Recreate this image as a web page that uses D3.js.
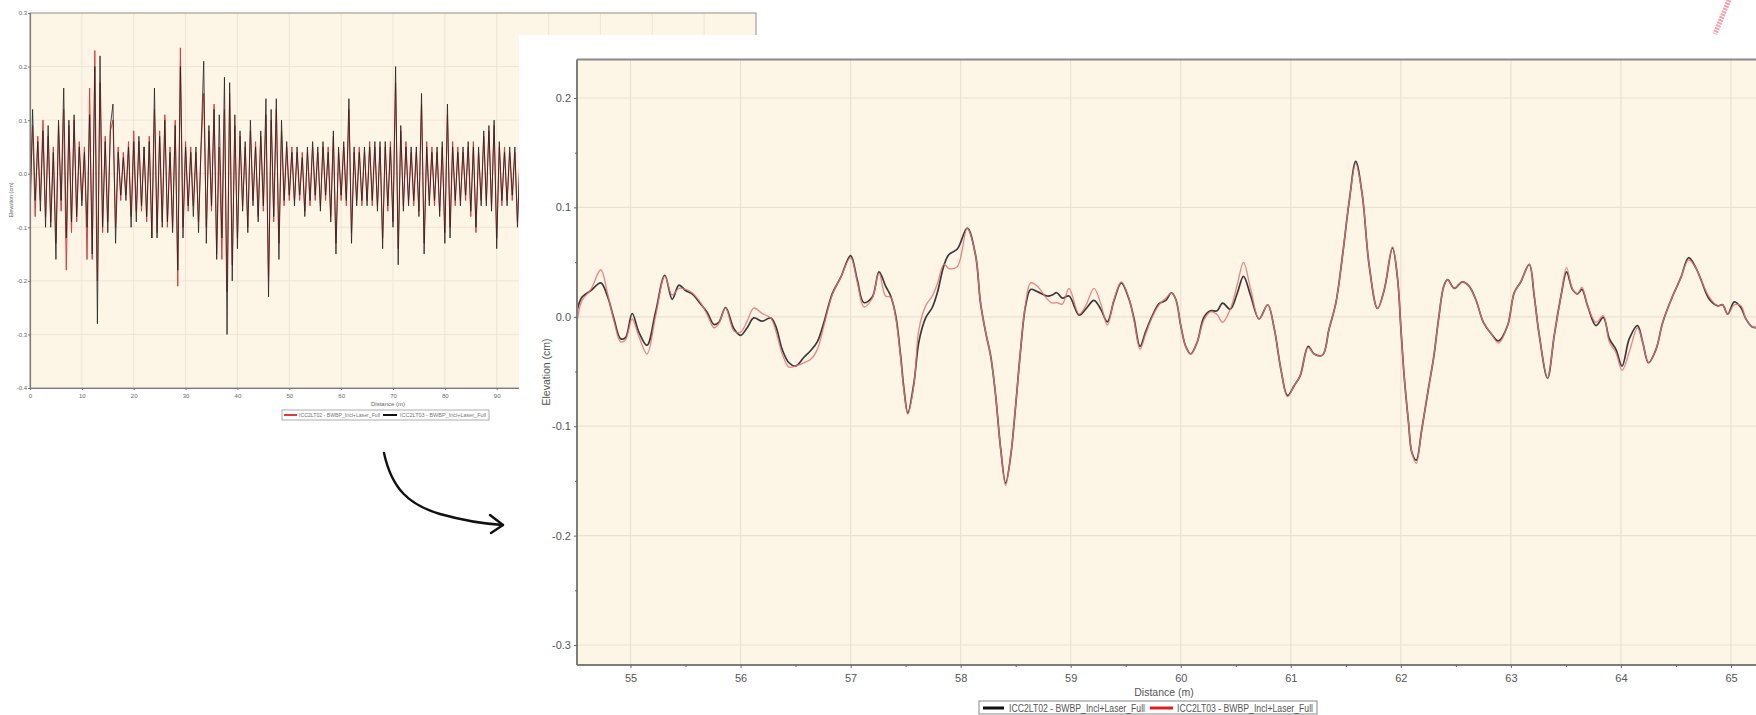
<!DOCTYPE html>
<html>
<head>
<meta charset="utf-8">
<script src="https://cdn.jsdelivr.net/npm/d3@7"></script>
<style>
    body { margin: 0; background: #ffffff; }
    svg text { font-family: "Liberation Sans", Arial, sans-serif; }
</style>
</head>
<body>
<div id="chart"></div>
<script>
// ---------- data ----------
// overview profile, one sample every 0.5 m starting at 0 m
const overviewStep = 0.5;
// ICC2LT02 (red in the overview)
const overviewLT02 = [
    -0.05, 0.09, -0.08, 0.07, -0.05, 0.10, -0.08, 0.07, -0.09, 0.05,
    -0.13, 0.09, -0.07, 0.12, -0.18, 0.09, -0.11, 0.10, -0.09, 0.06,
    -0.05, 0.05, -0.16, 0.16, -0.16, 0.23, -0.20, 0.17, -0.11, 0.07,
    -0.09, 0.08, 0.10, -0.10, 0.05, -0.05, 0.04, -0.04, 0.06, -0.08,
    0.08, -0.07, 0.06, -0.07, 0.05, -0.09, 0.07, -0.12, 0.12, -0.11,
    0.08, -0.09, 0.11, -0.10, 0.05, -0.10, 0.10, -0.21, 0.235, -0.10,
    0.06, -0.07, 0.05, -0.06, 0.04, -0.09, 0.05, 0.15, -0.10, 0.08,
    -0.07, 0.13, -0.15, 0.05, -0.16, 0.12, -0.22, 0.15, -0.17, 0.09,
    -0.12, 0.07, -0.06, 0.05, -0.10, 0.08, -0.05, 0.06, -0.08, 0.07,
    -0.07, 0.11, -0.20, 0.10, -0.09, 0.12, -0.13, 0.08, -0.06, 0.05,
    -0.05, 0.05, -0.05, 0.04, -0.05, 0.04, -0.07, 0.04, -0.06, 0.05,
    -0.05, 0.04, -0.06, 0.05, -0.05, 0.05, -0.08, 0.07, -0.13, 0.04,
    -0.05, 0.05, -0.06, 0.12, -0.11, 0.04, -0.05, 0.05, -0.06, 0.04,
    -0.05, 0.06, -0.06, 0.05, -0.06, 0.05, -0.12, 0.05, -0.07, 0.06,
    -0.09, 0.17, -0.14, 0.08, -0.06, 0.06, -0.05, 0.04, -0.06, 0.04,
    -0.07, 0.13, -0.13, 0.06, -0.05, 0.05, -0.06, 0.04, -0.07, 0.05,
    -0.11, 0.11, -0.10, 0.06, -0.06, 0.05, -0.05, 0.04, -0.05, 0.05,
    -0.08, 0.06, -0.11, 0.04, -0.05, 0.07, -0.05, 0.08, -0.06, 0.09,
    -0.12, 0.05, -0.06, 0.05, -0.05, 0.04, -0.05, 0.04, -0.09, 0.04
];
// ICC2LT03 (black in the overview)
const overviewLT03 = [
    -0.09, 0.12, -0.05, 0.06, -0.07, 0.08, -0.10, 0.09, -0.10, 0.04,
    -0.16, 0.10, -0.05, 0.16, -0.12, 0.10, -0.09, 0.11, -0.08, 0.05,
    -0.06, 0.04, -0.10, 0.11, -0.15, 0.20, -0.28, 0.22, -0.10, 0.06,
    -0.11, 0.09, 0.13, -0.13, 0.04, -0.04, 0.03, -0.05, 0.05, -0.10,
    0.06, -0.09, 0.07, -0.06, 0.05, -0.08, 0.06, -0.12, 0.16, -0.12,
    0.07, -0.10, 0.10, -0.09, 0.04, -0.11, 0.09, -0.18, 0.20, -0.12,
    0.05, -0.06, 0.04, -0.08, 0.05, -0.11, 0.06, 0.21, -0.13, 0.09,
    -0.06, 0.12, -0.16, 0.11, -0.12, 0.18, -0.30, 0.17, -0.20, 0.11,
    -0.14, 0.08, -0.07, 0.06, -0.11, 0.10, -0.06, 0.05, -0.09, 0.08,
    -0.06, 0.14, -0.23, 0.12, -0.08, 0.14, -0.16, 0.10, -0.05, 0.06,
    -0.04, 0.04, -0.06, 0.05, -0.04, 0.03, -0.08, 0.05, -0.05, 0.06,
    -0.04, 0.05, -0.07, 0.06, -0.04, 0.04, -0.09, 0.08, -0.15, 0.05,
    -0.04, 0.06, -0.05, 0.14, -0.13, 0.05, -0.06, 0.04, -0.05, 0.05,
    -0.06, 0.05, -0.05, 0.06, -0.07, 0.06, -0.14, 0.06, -0.06, 0.05,
    -0.10, 0.20, -0.17, 0.09, -0.07, 0.05, -0.06, 0.05, -0.05, 0.05,
    -0.08, 0.15, -0.15, 0.05, -0.06, 0.04, -0.05, 0.05, -0.08, 0.06,
    -0.13, 0.13, -0.12, 0.05, -0.05, 0.04, -0.06, 0.05, -0.04, 0.06,
    -0.07, 0.05, -0.10, 0.05, -0.06, 0.08, -0.06, 0.09, -0.07, 0.10,
    -0.14, 0.06, -0.05, 0.04, -0.06, 0.05, -0.04, 0.05, -0.10, 0.03
];
const overviewXTicks = [0, 10, 20, 30, 40, 50, 60, 70, 80, 90, 100, 110, 120, 130, 140];
const overviewYTicks = [-0.4, -0.3, -0.2, -0.1, 0.0, 0.1, 0.2, 0.3];
const overviewNames = ["ICC2LT02 - BWBP_Incl+Laser_Full", "ICC2LT03 - BWBP_Incl+Laser_Full"];

// zoomed profile 54.5 m - 65.2 m
const zoomDistance = [
    54.515, 54.56, 54.64, 54.73, 54.79, 54.85, 54.91, 54.955, 55.015, 55.076,
    55.15, 55.227, 55.312, 55.379, 55.44, 55.5, 55.56, 55.636, 55.697, 55.758,
    55.803, 55.864, 55.94, 56.0, 56.06, 56.12, 56.197, 56.273, 56.318, 56.379,
    56.44, 56.5, 56.576, 56.636, 56.697, 56.758, 56.833, 56.91, 57.0, 57.06,
    57.12, 57.197, 57.258, 57.318, 57.364, 57.41, 57.455, 57.485, 57.52, 57.576,
    57.62, 57.682, 57.742, 57.788, 57.848, 57.894, 57.97, 58.06, 58.136, 58.18,
    58.227, 58.273, 58.318, 58.364, 58.409, 58.455, 58.5, 58.545, 58.59, 58.636,
    58.697, 58.788, 58.833, 58.873, 58.924, 58.985, 59.076, 59.136, 59.212, 59.273,
    59.333, 59.394, 59.46, 59.53, 59.576, 59.63, 59.68, 59.742, 59.803, 59.864,
    59.915, 59.955, 60.0, 60.045, 60.09, 60.15, 60.21, 60.27, 60.33, 60.38,
    60.45, 60.515, 60.57, 60.636, 60.712, 60.79, 60.85, 60.91, 60.97, 61.03,
    61.085, 61.158, 61.212, 61.288, 61.348, 61.41, 61.47, 61.53, 61.59, 61.65,
    61.712, 61.788, 61.85, 61.924, 61.97, 62.0, 62.03, 62.07, 62.1, 62.14,
    62.19, 62.25, 62.3, 62.343, 62.39, 62.425, 62.485, 62.56, 62.62, 62.68,
    62.75, 62.818, 62.888, 62.97, 63.03, 63.09, 63.167, 63.212, 63.258, 63.333,
    63.394, 63.455, 63.506, 63.56, 63.606, 63.645, 63.697, 63.773, 63.84, 63.894,
    63.955, 64.01, 64.076, 64.15, 64.197, 64.25, 64.318, 64.38, 64.47, 64.545,
    64.615, 64.68, 64.727, 64.803, 64.88, 64.924, 64.97, 65.03, 65.09, 65.136,
    65.19, 65.25
];
// ICC2LT02 (black in the zoom)
const zoomLT02 = [
    0.006, 0.018, 0.024, 0.031, 0.019, -0.002, -0.020, -0.019, 0.003, -0.014,
    -0.026, 0.004, 0.038, 0.016, 0.029, 0.024, 0.021, 0.012, 0.004, -0.007,
    -0.005, 0.0085, -0.011, -0.017, -0.010, -0.001, -0.004, -0.001, -0.008, -0.030,
    -0.042, -0.045, -0.037, -0.031, -0.023, -0.005, 0.021, 0.036, 0.056, 0.034,
    0.013, 0.018, 0.041, 0.028, 0.019, 0.001, -0.036, -0.066, -0.088, -0.060,
    -0.023, -0.001, 0.0085, 0.022, 0.047, 0.057, 0.062, 0.081, 0.056, 0.013,
    -0.014, -0.036, -0.072, -0.121, -0.152, -0.127, -0.081, -0.030, 0.010, 0.025,
    0.023, 0.019, 0.020, 0.022, 0.017, 0.019, 0.0015, 0.007, 0.015, 0.007,
    -0.0046, 0.015, 0.031, 0.016, -0.002, -0.027, -0.014, 0.001, 0.012, 0.015,
    0.022, 0.016, -0.008, -0.027, -0.034, -0.023, -0.0006, 0.0055, 0.0055, 0.0125,
    0.007, 0.022, 0.037, 0.019, -0.002, 0.011, -0.011, -0.048, -0.072, -0.063,
    -0.054, -0.027, -0.034, -0.035, -0.011, 0.013, 0.056, 0.105, 0.142, 0.111,
    0.047, 0.0076, 0.025, 0.063, 0.035, -0.010, -0.054, -0.097, -0.124, -0.131,
    -0.103, -0.066, -0.036, -0.002, 0.028, 0.034, 0.026, 0.032, 0.028, 0.016,
    -0.005, -0.015, -0.022, -0.008, 0.022, 0.032, 0.048, 0.019, -0.017, -0.056,
    -0.017, 0.019, 0.041, 0.025, 0.021, 0.025, 0.010, -0.008, -0.0006, -0.020,
    -0.030, -0.045, -0.020, -0.008, -0.023, -0.042, -0.030, -0.005, 0.019, 0.036,
    0.054, 0.045, 0.034, 0.016, 0.010, 0.011, 0.0024, 0.0137, 0.0085, -0.002,
    -0.009, -0.010
];
// ICC2LT03 (red in the zoom)
const zoomLT03 = [
    -0.004, 0.015, 0.025, 0.043, 0.022, -0.004, -0.023, -0.021, -0.002, -0.018,
    -0.034, 0.000, 0.037, 0.020, 0.026, 0.025, 0.022, 0.013, 0.002, -0.010,
    -0.006, 0.008, -0.013, -0.014, -0.004, 0.008, 0.003, -0.001, -0.012, -0.034,
    -0.046, -0.045, -0.042, -0.039, -0.030, -0.008, 0.020, 0.036, 0.054, 0.032,
    0.009, 0.017, 0.040, 0.019, 0.018, -0.001, -0.038, -0.068, -0.089, -0.062,
    -0.012, 0.010, 0.019, 0.030, 0.048, 0.044, 0.046, 0.081, 0.056, 0.013,
    -0.014, -0.036, -0.072, -0.121, -0.154, -0.127, -0.081, -0.030, 0.012, 0.031,
    0.028, 0.016, 0.0125, 0.013, 0.0116, 0.026, 0.0024, 0.010, 0.026, 0.012,
    -0.0076, 0.016, 0.032, 0.017, -0.004, -0.0296, -0.016, 0.000, 0.011, 0.017,
    0.0216, 0.016, -0.008, -0.027, -0.034, -0.023, -0.003, 0.0046, 0.002, -0.005,
    0.007, 0.030, 0.0497, 0.025, -0.002, 0.011, -0.011, -0.048, -0.073, -0.063,
    -0.054, -0.028, -0.034, -0.035, -0.011, 0.013, 0.056, 0.105, 0.140, 0.111,
    0.047, 0.0076, 0.025, 0.064, 0.035, -0.010, -0.054, -0.097, -0.124, -0.134,
    -0.103, -0.066, -0.036, -0.002, 0.028, 0.034, 0.026, 0.032, 0.028, 0.016,
    -0.005, -0.015, -0.024, -0.008, 0.022, 0.032, 0.048, 0.019, -0.017, -0.056,
    -0.017, 0.019, 0.045, 0.025, 0.021, 0.027, 0.010, -0.005, 0.001, -0.023,
    -0.033, -0.049, -0.032, -0.010, -0.023, -0.042, -0.030, -0.005, 0.019, 0.036,
    0.052, 0.045, 0.034, 0.018, 0.010, 0.011, 0.0024, 0.011, 0.010, -0.002,
    -0.009, -0.010
];
const zoomXTicks = [55, 56, 57, 58, 59, 60, 61, 62, 63, 64, 65];
const zoomYTicks = [-0.3, -0.2, -0.1, 0.0, 0.1, 0.2];
const zoomNames = ["ICC2LT02 - BWBP_Incl+Laser_Full", "ICC2LT03 - BWBP_Incl+Laser_Full"];

const PLOT_BG = "#fdf5e6";
const GRID = "#e9e1d1";
const FRAME = "#7d7d7d";

function init() {
    var svg = d3.select("#chart").append("svg")
        .attr("width", 1756)
        .attr("height", 715);

    drawOverview(svg);
    drawZoom(svg);
    drawDecor(svg);
}

function fmt(d) {
    return d.toFixed(1);
}

function drawOverview(svg) {
    var x = d3.scaleLinear().domain([0, 140]).range([30, 756]);
    var y = d3.scaleLinear().domain([-0.4, 0.3]).range([388, 13]);
    var g = svg.append("g").attr("class", "overview");

    g.append("rect")
        .attr("x", x(0)).attr("y", y(0.3))
        .attr("width", x(140) - x(0)).attr("height", y(-0.4) - y(0.3))
        .attr("fill", PLOT_BG);

    // grid
    g.append("g").selectAll("line").data(overviewXTicks).join("line")
        .attr("x1", d => x(d)).attr("x2", d => x(d))
        .attr("y1", y(0.3)).attr("y2", y(-0.4))
        .attr("stroke", GRID).attr("stroke-width", 0.8);
    g.append("g").selectAll("line").data(overviewYTicks).join("line")
        .attr("x1", x(0)).attr("x2", x(140))
        .attr("y1", d => y(d)).attr("y2", d => y(d))
        .attr("stroke", GRID).attr("stroke-width", 0.8);

    svg.append("clipPath").attr("id", "clipOverview")
        .append("rect")
        .attr("x", x(0)).attr("y", y(0.3))
        .attr("width", x(140) - x(0)).attr("height", y(-0.4) - y(0.3));

    var line = d3.line()
        .x((d, i) => x(i * overviewStep))
        .y(d => y(d));

    var lines = g.append("g").attr("clip-path", "url(#clipOverview)");
    lines.append("path").datum(overviewLT02)
        .attr("d", line).attr("fill", "none")
        .attr("stroke", "#e23a3a").attr("stroke-width", 1);
    lines.append("path").datum(overviewLT03)
        .attr("d", line).attr("fill", "none")
        .attr("stroke", "#222").attr("stroke-opacity", 0.8).attr("stroke-width", 1);

    // frame
    g.append("rect")
        .attr("x", x(0)).attr("y", y(0.3))
        .attr("width", x(140) - x(0)).attr("height", y(-0.4) - y(0.3))
        .attr("fill", "none").attr("stroke", "#999").attr("stroke-width", 1);

    // axes
    var yAxis = g.append("g")
        .attr("transform", "translate(" + x(0) + ",0)")
        .call(d3.axisLeft(y).tickValues(overviewYTicks).tickFormat(fmt).tickSize(2).tickPadding(1));
    var xAxis = g.append("g")
        .attr("transform", "translate(0," + y(-0.4) + ")")
        .call(d3.axisBottom(x).tickValues(overviewXTicks).tickFormat(d3.format("d")).tickSize(2).tickPadding(4));
    [yAxis, xAxis].forEach(a => {
        a.select(".domain").attr("stroke", FRAME).attr("stroke-width", 1.2);
        a.selectAll(".tick line").attr("stroke", "#777");
        a.selectAll(".tick text").attr("fill", "#666").style("font-size", "6px");
    });

    g.append("text")
        .attr("x", 388).attr("y", 406)
        .attr("text-anchor", "middle")
        .style("font-size", "6px").attr("fill", "#666")
        .text("Distance (m)");

    g.append("text")
        .attr("transform", "translate(13,200) rotate(-90)")
        .attr("text-anchor", "middle")
        .style("font-size", "5.5px").attr("fill", "#666")
        .text("Elevation (cm)");

    // legend
    var lg = g.append("g").attr("class", "legend");
    lg.append("rect").attr("x", 282).attr("y", 410).attr("width", 207).attr("height", 10)
        .attr("fill", "#fff").attr("stroke", "#999").attr("stroke-width", 0.8);
    lg.append("line").attr("x1", 284).attr("x2", 297).attr("y1", 415).attr("y2", 415)
        .attr("stroke", "#e23a3a").attr("stroke-width", 2);
    lg.append("text").attr("x", 299).attr("y", 417)
        .attr("textLength", 81).attr("lengthAdjust", "spacingAndGlyphs")
        .style("font-size", "5.5px").attr("fill", "#777").text(overviewNames[0]);
    lg.append("line").attr("x1", 383).attr("x2", 397).attr("y1", 415).attr("y2", 415)
        .attr("stroke", "#111").attr("stroke-width", 2);
    lg.append("text").attr("x", 400).attr("y", 417)
        .attr("textLength", 86).attr("lengthAdjust", "spacingAndGlyphs")
        .style("font-size", "5.5px").attr("fill", "#777").text(overviewNames[1]);
}

function drawZoom(svg) {
    var left = 577, top = 59.5, bottom = 665, right = 1756;
    var g = svg.append("g").attr("class", "zoomChart");

    // white card that sits on top of the overview
    g.append("rect")
        .attr("x", 519).attr("y", 35)
        .attr("width", 1756 - 519).attr("height", 715 - 35)
        .attr("fill", "#fff");

    var x = d3.scaleLinear().domain([55, 65]).range([630.5, 1731]);
    var y = d3.scaleLinear().domain([-0.3, 0.2]).range([645, 98]);

    g.append("rect")
        .attr("x", left).attr("y", top)
        .attr("width", right - left).attr("height", bottom - top)
        .attr("fill", PLOT_BG);

    g.append("g").selectAll("line").data(zoomXTicks).join("line")
        .attr("x1", d => x(d)).attr("x2", d => x(d))
        .attr("y1", top).attr("y2", bottom)
        .attr("stroke", GRID).attr("stroke-width", 1.2);
    g.append("g").selectAll("line").data(zoomYTicks).join("line")
        .attr("x1", left).attr("x2", right)
        .attr("y1", d => y(d)).attr("y2", d => y(d))
        .attr("stroke", GRID).attr("stroke-width", 1.2);

    svg.append("clipPath").attr("id", "clipZoom")
        .append("rect")
        .attr("x", left).attr("y", top)
        .attr("width", right - left).attr("height", bottom - top);

    var line = d3.line()
        .x((d, i) => x(zoomDistance[i]))
        .y(d => y(d))
        .curve(d3.curveCatmullRom.alpha(0.5));

    var lines = g.append("g").attr("clip-path", "url(#clipZoom)");
    lines.append("path").datum(zoomLT02)
        .attr("d", line).attr("fill", "none")
        .attr("stroke", "#3a3a3a").attr("stroke-width", 1.7);
    lines.append("path").datum(zoomLT03)
        .attr("d", line).attr("fill", "none")
        .attr("stroke", "#ef6f73").attr("stroke-opacity", 0.85).attr("stroke-width", 1.3);

    // frame: top, left, bottom
    g.append("line").attr("x1", left).attr("x2", right).attr("y1", top).attr("y2", top)
        .attr("stroke", "#8a8a8a").attr("stroke-width", 2);

    var yAxis = g.append("g")
        .attr("transform", "translate(" + left + ",0)")
        .call(d3.axisLeft(y).tickValues(zoomYTicks).tickFormat(fmt).tickSize(3).tickPadding(3));
    var yMinor = g.append("g")
        .attr("transform", "translate(" + left + ",0)")
        .call(d3.axisLeft(y).tickValues([-0.25, -0.15, -0.05, 0.05, 0.15]).tickFormat("").tickSize(2));
    var xAxis = g.append("g")
        .attr("transform", "translate(0," + bottom + ")")
        .call(d3.axisBottom(x).tickValues(zoomXTicks).tickFormat(d3.format("d")).tickSize(3).tickPadding(6));
    var xMinor = g.append("g")
        .attr("transform", "translate(0," + bottom + ")")
        .call(d3.axisBottom(x).tickValues(zoomXTicks.map(d => d + 0.5)).tickFormat("").tickSize(2));

    [yAxis, yMinor, xAxis, xMinor].forEach(a => {
        a.select(".domain").attr("stroke", FRAME).attr("stroke-width", 2);
        a.selectAll(".tick line").attr("stroke", "#666");
        a.selectAll(".tick text").attr("fill", "#555").style("font-size", "11px");
    });
    yAxis.select(".domain").attr("d", "M0," + top + "V" + bottom);
    yMinor.select(".domain").remove();
    xAxis.select(".domain").attr("d", "M" + left + ",0H" + right);
    xMinor.select(".domain").remove();

    g.append("text")
        .attr("x", 1164).attr("y", 696)
        .attr("text-anchor", "middle")
        .style("font-size", "10.5px").attr("fill", "#555")
        .text("Distance (m)");

    g.append("text")
        .attr("transform", "translate(550,372) rotate(-90)")
        .attr("text-anchor", "middle")
        .style("font-size", "10.5px").attr("fill", "#555")
        .text("Elevation (cm)");

    // legend
    var lg = g.append("g").attr("class", "legend");
    lg.append("rect").attr("x", 979).attr("y", 701).attr("width", 338).attr("height", 13)
        .attr("fill", "#fff").attr("stroke", "#888").attr("stroke-width", 1);
    lg.append("line").attr("x1", 983).attr("x2", 1004).attr("y1", 708).attr("y2", 708)
        .attr("stroke", "#111").attr("stroke-width", 3);
    lg.append("text").attr("x", 1009).attr("y", 711.5)
        .attr("textLength", 136).attr("lengthAdjust", "spacingAndGlyphs")
        .style("font-size", "10px").attr("fill", "#555").text(zoomNames[0]);
    lg.append("line").attr("x1", 1150).attr("x2", 1173).attr("y1", 708).attr("y2", 708)
        .attr("stroke", "#e02020").attr("stroke-width", 3);
    lg.append("text").attr("x", 1177).attr("y", 711.5)
        .attr("textLength", 136).attr("lengthAdjust", "spacingAndGlyphs")
        .style("font-size", "10px").attr("fill", "#555").text(zoomNames[1]);
}

function drawDecor(svg) {
    // hand drawn arrow from the overview to the zoom
    svg.append("path")
        .attr("d", "M384,453 C392,490 410,505 440,514 C465,521 485,524 503,525")
        .attr("fill", "none").attr("stroke", "#111").attr("stroke-width", 2.4)
        .attr("stroke-linecap", "round");
    svg.append("path")
        .attr("d", "M490,515 L503,525 L491,533")
        .attr("fill", "none").attr("stroke", "#111").attr("stroke-width", 2.4)
        .attr("stroke-linecap", "round").attr("stroke-linejoin", "round");

    // pink dotted mark in the top right corner
    svg.append("line")
        .attr("x1", 1729).attr("y1", 0).attr("x2", 1715).attr("y2", 34)
        .attr("stroke", "#f3a3aa").attr("stroke-width", 5)
        .attr("stroke-dasharray", "2,1");
}

init();
</script>
</body>
</html>
